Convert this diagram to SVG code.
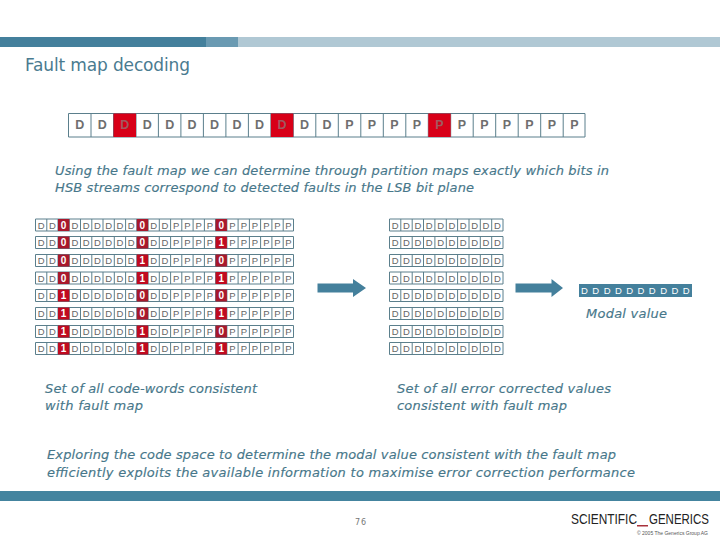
<svg xmlns="http://www.w3.org/2000/svg" width="720" height="540" viewBox="0 0 720 540">
<style>
text{font-family:"DejaVu Sans","Liberation Sans",sans-serif}
.cell{fill:#fff;stroke:#5b7f8c;stroke-width:1}
.title{font-size:17px;fill:#4a7b90}
.note{font-size:13px;font-style:italic;fill:#47778a;stroke:#47778a;stroke-width:.15}
.big{font-family:"Liberation Sans",sans-serif;font-weight:bold;font-size:12.5px;fill:#6e6e6e;text-anchor:middle}
.bigr{font-family:"Liberation Sans",sans-serif;font-weight:bold;font-size:12.5px;fill:#a05a60;text-anchor:middle}
.sm{font-family:"Liberation Sans",sans-serif;font-size:9.5px;fill:#666;text-anchor:middle}
.bit{font-family:"Liberation Sans",sans-serif;font-size:10px;font-weight:bold;fill:#fff;text-anchor:middle}
.r0{fill:#a8182c}.r1{fill:#c00a20}
.arrow{fill:#44809c}
.logo{font-family:"Liberation Sans",sans-serif;font-size:14px;fill:#222}
</style>
<defs>
<path id="grid23" class="cell" d="M35.5 0H293.5V12H35.5ZM46.8 0V12M58 0V12M69.3 0V12M80.5 0V12M91.8 0V12M103 0V12M114.3 0V12M125.6 0V12M136.8 0V12M148.1 0V12M159.3 0V12M170.6 0V12M181.8 0V12M193.1 0V12M204.4 0V12M215.6 0V12M226.9 0V12M238.1 0V12M249.4 0V12M260.6 0V12M271.9 0V12M283.2 0V12"/>
<path id="grid10" class="cell" d="M389.5 0H503V12H389.5ZM400.8 0V12M412.2 0V12M423.5 0V12M434.9 0V12M446.3 0V12M457.6 0V12M469 0V12M480.3 0V12M491.7 0V12"/>
</defs>
<g id="top-bar"><rect x="0" y="37" width="206" height="10" fill="#44809c"/><rect x="206" y="37" width="32" height="10" fill="#6a9ab2"/><rect x="238" y="37" width="482" height="10" fill="#b0c8d4"/></g>
<text x="25" y="71" class="title" textLength="165" lengthAdjust="spacing">Fault map decoding</text>
<g id="codeword">
<path class="cell" d="M68.5 113.5H585V137H68.5ZM91 113.5V137M113.5 113.5V137M136 113.5V137M158.4 113.5V137M180.9 113.5V137M203.4 113.5V137M225.9 113.5V137M248.4 113.5V137M270.9 113.5V137M293.3 113.5V137M315.8 113.5V137M338.3 113.5V137M360.8 113.5V137M383.3 113.5V137M405.8 113.5V137M428.3 113.5V137M450.7 113.5V137M473.2 113.5V137M495.7 113.5V137M518.2 113.5V137M540.7 113.5V137M563.2 113.5V137"/>
<rect x="113.5" y="113.5" width="22.5" height="23.5" fill="#d80018"/><rect x="270.9" y="113.5" width="22.4" height="23.5" fill="#d80018"/><rect x="428.3" y="113.5" width="22.4" height="23.5" fill="#d80018"/>
<text class="big" y="129.3" x="79.7 102.2">DD</text>
<text class="bigr" y="129.3" x="124.7">D</text>
<text class="big" y="129.3" x="147.2 169.7 192.1 214.6 237.1 259.6">DDDDDD</text>
<text class="bigr" y="129.3" x="282.1">D</text>
<text class="big" y="129.3" x="304.6 327 349.5 372 394.5 417">DDPPPP</text>
<text class="bigr" y="129.3" x="439.5">P</text>
<text class="big" y="129.3" x="462 484.5 506.9 529.4 551.9 574.4">PPPPPP</text>
</g>
<text x="55" y="175" class="note" textLength="554" lengthAdjust="spacing">Using the fault map we can determine through partition maps exactly which bits in</text>
<text x="55" y="192" class="note" textLength="419" lengthAdjust="spacing">HSB streams correspond to detected faults in the LSB bit plane</text>
<g id="codewords">
<g transform="translate(0,219)"><use href="#grid23"/><rect x="58" width="11.3" height="12" class="r0"/><rect x="136.8" width="11.3" height="12" class="r0"/><rect x="215.6" width="11.3" height="12" class="r0"/><text class="sm" y="9.5" x="41.1 52.4">DD</text><text class="bit" y="9.7" x="63.6">0</text><text class="sm" y="9.5" x="74.9 86.1 97.4 108.7 119.9 131.2">DDDDDD</text><text class="bit" y="9.7" x="142.4">0</text><text class="sm" y="9.5" x="153.7 164.9 176.2 187.5 198.7 210">DDPPPP</text><text class="bit" y="9.7" x="221.2">0</text><text class="sm" y="9.5" x="232.5 243.8 255 266.3 277.5 288.4">PPPPPP</text></g>
<g transform="translate(0,236.5)"><use href="#grid23"/><rect x="58" width="11.3" height="12" class="r0"/><rect x="136.8" width="11.3" height="12" class="r0"/><rect x="215.6" width="11.3" height="12" class="r1"/><text class="sm" y="9.5" x="41.1 52.4">DD</text><text class="bit" y="9.7" x="63.6">0</text><text class="sm" y="9.5" x="74.9 86.1 97.4 108.7 119.9 131.2">DDDDDD</text><text class="bit" y="9.7" x="142.4">0</text><text class="sm" y="9.5" x="153.7 164.9 176.2 187.5 198.7 210">DDPPPP</text><text class="bit" y="9.7" x="221.2">1</text><text class="sm" y="9.5" x="232.5 243.8 255 266.3 277.5 288.4">PPPPPP</text></g>
<g transform="translate(0,254.5)"><use href="#grid23"/><rect x="58" width="11.3" height="12" class="r0"/><rect x="136.8" width="11.3" height="12" class="r1"/><rect x="215.6" width="11.3" height="12" class="r0"/><text class="sm" y="9.5" x="41.1 52.4">DD</text><text class="bit" y="9.7" x="63.6">0</text><text class="sm" y="9.5" x="74.9 86.1 97.4 108.7 119.9 131.2">DDDDDD</text><text class="bit" y="9.7" x="142.4">1</text><text class="sm" y="9.5" x="153.7 164.9 176.2 187.5 198.7 210">DDPPPP</text><text class="bit" y="9.7" x="221.2">0</text><text class="sm" y="9.5" x="232.5 243.8 255 266.3 277.5 288.4">PPPPPP</text></g>
<g transform="translate(0,272)"><use href="#grid23"/><rect x="58" width="11.3" height="12" class="r0"/><rect x="136.8" width="11.3" height="12" class="r1"/><rect x="215.6" width="11.3" height="12" class="r1"/><text class="sm" y="9.5" x="41.1 52.4">DD</text><text class="bit" y="9.7" x="63.6">0</text><text class="sm" y="9.5" x="74.9 86.1 97.4 108.7 119.9 131.2">DDDDDD</text><text class="bit" y="9.7" x="142.4">1</text><text class="sm" y="9.5" x="153.7 164.9 176.2 187.5 198.7 210">DDPPPP</text><text class="bit" y="9.7" x="221.2">1</text><text class="sm" y="9.5" x="232.5 243.8 255 266.3 277.5 288.4">PPPPPP</text></g>
<g transform="translate(0,289.5)"><use href="#grid23"/><rect x="58" width="11.3" height="12" class="r1"/><rect x="136.8" width="11.3" height="12" class="r0"/><rect x="215.6" width="11.3" height="12" class="r0"/><text class="sm" y="9.5" x="41.1 52.4">DD</text><text class="bit" y="9.7" x="63.6">1</text><text class="sm" y="9.5" x="74.9 86.1 97.4 108.7 119.9 131.2">DDDDDD</text><text class="bit" y="9.7" x="142.4">0</text><text class="sm" y="9.5" x="153.7 164.9 176.2 187.5 198.7 210">DDPPPP</text><text class="bit" y="9.7" x="221.2">0</text><text class="sm" y="9.5" x="232.5 243.8 255 266.3 277.5 288.4">PPPPPP</text></g>
<g transform="translate(0,307.5)"><use href="#grid23"/><rect x="58" width="11.3" height="12" class="r1"/><rect x="136.8" width="11.3" height="12" class="r0"/><rect x="215.6" width="11.3" height="12" class="r1"/><text class="sm" y="9.5" x="41.1 52.4">DD</text><text class="bit" y="9.7" x="63.6">1</text><text class="sm" y="9.5" x="74.9 86.1 97.4 108.7 119.9 131.2">DDDDDD</text><text class="bit" y="9.7" x="142.4">0</text><text class="sm" y="9.5" x="153.7 164.9 176.2 187.5 198.7 210">DDPPPP</text><text class="bit" y="9.7" x="221.2">1</text><text class="sm" y="9.5" x="232.5 243.8 255 266.3 277.5 288.4">PPPPPP</text></g>
<g transform="translate(0,325.5)"><use href="#grid23"/><rect x="58" width="11.3" height="12" class="r1"/><rect x="136.8" width="11.3" height="12" class="r1"/><rect x="215.6" width="11.3" height="12" class="r0"/><text class="sm" y="9.5" x="41.1 52.4">DD</text><text class="bit" y="9.7" x="63.6">1</text><text class="sm" y="9.5" x="74.9 86.1 97.4 108.7 119.9 131.2">DDDDDD</text><text class="bit" y="9.7" x="142.4">1</text><text class="sm" y="9.5" x="153.7 164.9 176.2 187.5 198.7 210">DDPPPP</text><text class="bit" y="9.7" x="221.2">0</text><text class="sm" y="9.5" x="232.5 243.8 255 266.3 277.5 288.4">PPPPPP</text></g>
<g transform="translate(0,342.5)"><use href="#grid23"/><rect x="58" width="11.3" height="12" class="r1"/><rect x="136.8" width="11.3" height="12" class="r1"/><rect x="215.6" width="11.3" height="12" class="r1"/><text class="sm" y="9.5" x="41.1 52.4">DD</text><text class="bit" y="9.7" x="63.6">1</text><text class="sm" y="9.5" x="74.9 86.1 97.4 108.7 119.9 131.2">DDDDDD</text><text class="bit" y="9.7" x="142.4">1</text><text class="sm" y="9.5" x="153.7 164.9 176.2 187.5 198.7 210">DDPPPP</text><text class="bit" y="9.7" x="221.2">1</text><text class="sm" y="9.5" x="232.5 243.8 255 266.3 277.5 288.4">PPPPPP</text></g>
</g>
<g id="corrected">
<g transform="translate(0,219)"><use href="#grid10"/><text class="sm" y="9.5" x="395.2 406.5 417.9 429.2 440.6 452 463.3 474.7 486 497.4">DDDDDDDDDD</text></g>
<g transform="translate(0,236.5)"><use href="#grid10"/><text class="sm" y="9.5" x="395.2 406.5 417.9 429.2 440.6 452 463.3 474.7 486 497.4">DDDDDDDDDD</text></g>
<g transform="translate(0,254.5)"><use href="#grid10"/><text class="sm" y="9.5" x="395.2 406.5 417.9 429.2 440.6 452 463.3 474.7 486 497.4">DDDDDDDDDD</text></g>
<g transform="translate(0,272)"><use href="#grid10"/><text class="sm" y="9.5" x="395.2 406.5 417.9 429.2 440.6 452 463.3 474.7 486 497.4">DDDDDDDDDD</text></g>
<g transform="translate(0,289.5)"><use href="#grid10"/><text class="sm" y="9.5" x="395.2 406.5 417.9 429.2 440.6 452 463.3 474.7 486 497.4">DDDDDDDDDD</text></g>
<g transform="translate(0,307.5)"><use href="#grid10"/><text class="sm" y="9.5" x="395.2 406.5 417.9 429.2 440.6 452 463.3 474.7 486 497.4">DDDDDDDDDD</text></g>
<g transform="translate(0,325.5)"><use href="#grid10"/><text class="sm" y="9.5" x="395.2 406.5 417.9 429.2 440.6 452 463.3 474.7 486 497.4">DDDDDDDDDD</text></g>
<g transform="translate(0,342.5)"><use href="#grid10"/><text class="sm" y="9.5" x="395.2 406.5 417.9 429.2 440.6 452 463.3 474.7 486 497.4">DDDDDDDDDD</text></g>
</g>
<g id="connectors">
<path class="arrow" d="M317.5 283.5H353V279L366 288L353 297V292.5H317.5Z"/>
<path class="arrow" d="M515.5 283.5H551.5V279L563 288L551.5 297V292.5H515.5Z"/>
</g>
<g id="modal">
<rect x="579" y="284" width="113" height="13" fill="#44809c"/>
<text y="294" x="584.5 595.8 607.1 618.4 629.7 641 652.3 663.6 674.9 686.2" style="font-family:'Liberation Sans',sans-serif;font-size:9.5px;fill:#fff;text-anchor:middle">DDDDDDDDDD</text>
<text x="586" y="318" class="note" textLength="81" lengthAdjust="spacing">Modal value</text>
</g>
<text x="45" y="393" class="note" textLength="212" lengthAdjust="spacing">Set of all code-words consistent</text>
<text x="45" y="410" class="note" textLength="98" lengthAdjust="spacing">with fault map</text>
<text x="397" y="393" class="note" textLength="214" lengthAdjust="spacing">Set of all error corrected values</text>
<text x="397" y="410" class="note" textLength="170" lengthAdjust="spacing">consistent with fault map</text>
<text x="47" y="459" class="note" textLength="569" lengthAdjust="spacing">Exploring the code space to determine the modal value consistent with the fault map</text>
<text x="47" y="477" class="note" textLength="588" lengthAdjust="spacing">efficiently exploits the available information to maximise error correction performance</text>
<g id="footer">
<rect x="0" y="491" width="720" height="10" fill="#44849f"/>
<text x="355" y="525" textLength="11" lengthAdjust="spacing" style="font-size:8px;fill:#777">76</text>
<text x="571" y="523.5" class="logo" textLength="66" lengthAdjust="spacingAndGlyphs">SCIENTIFIC</text>
<rect x="637" y="525" width="11" height="1.5" fill="#a8323c"/>
<text x="649" y="523.5" class="logo" textLength="60" lengthAdjust="spacingAndGlyphs">GENERICS</text>
<text x="637" y="535" textLength="71" lengthAdjust="spacingAndGlyphs" style="font-family:'Liberation Sans',sans-serif;font-size:5.5px;fill:#555">© 2005 The Generics Group AG</text>
</g>
</svg>
